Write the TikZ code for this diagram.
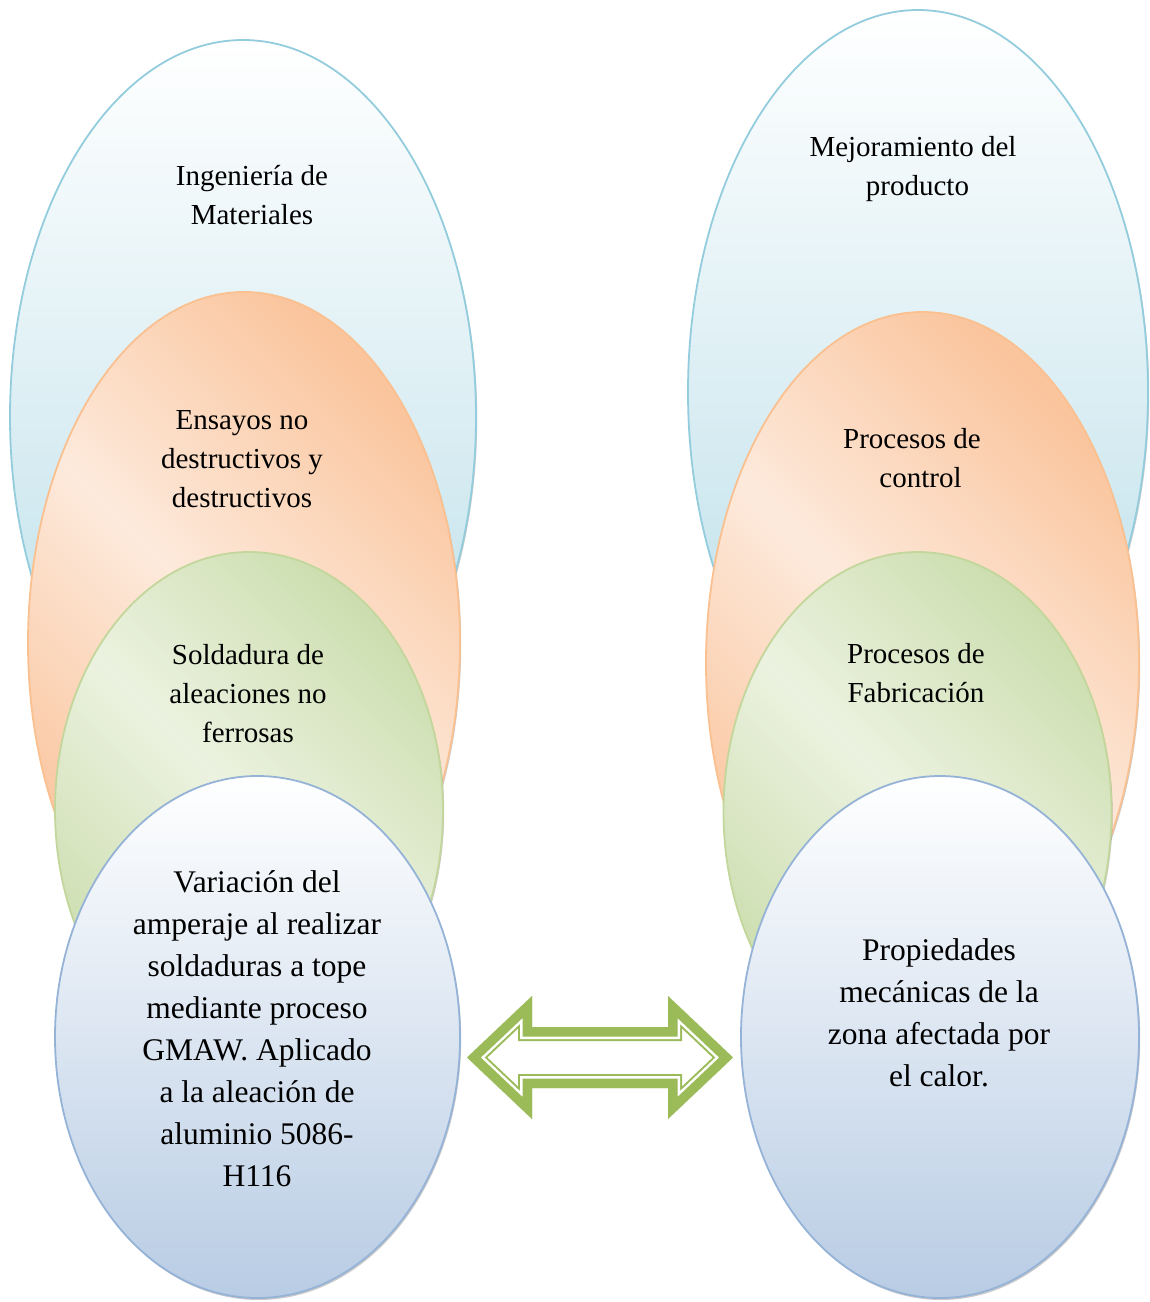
\documentclass[tikz,border=0pt]{standalone}
\usepackage{fontspec}
\setmainfont{Liberation Serif}
\usetikzlibrary{shapes.geometric,shadows}

\definecolor{skyedge}{HTML}{93CDDD}
\definecolor{skydeep}{HTML}{B7DDE8}
\definecolor{peachedge}{HTML}{FAC090}
\definecolor{peachdeep}{HTML}{FAC49C}
\definecolor{peachlight}{HTML}{FDEADC}
\definecolor{sageedge}{HTML}{C3D69B}
\definecolor{sagedeep}{HTML}{CCDEAF}
\definecolor{sagelight}{HTML}{ECF2E0}
\definecolor{slateedge}{HTML}{95B3D7}
\definecolor{slatedeep}{HTML}{B8CCE4}
\definecolor{arrowgreen}{HTML}{9BBB59}

\tikzset{
  ring/.style={ellipse, inner sep=0pt, line width=1.8pt,
    drop shadow={shadow xshift=1.2pt, shadow yshift=-2pt, opacity=0.35, fill=black!60}},
  outerring/.style={ring, draw=skyedge, top color=white, bottom color=skydeep},
  midring/.style={ring, draw=peachedge, top color=peachdeep, bottom color=peachdeep,
    middle color=peachlight, shading angle=-45},
  innerring/.style={ring, draw=sageedge, top color=sagedeep, bottom color=sagedeep,
    middle color=sagelight, shading angle=-45},
  corering/.style={ring, draw=slateedge, top color=white, bottom color=slatedeep},
  lbl/.style={align=center, inner sep=0pt, text=black, font=\fontsize{29}{39}\selectfont},
  biglbl/.style={align=center, inner sep=0pt, text=black, font=\fontsize{31.5}{42}\selectfont},
}

% outline of the two-headed arrow between the two stacks
\def\twowaypath{(467,1057.5) -- (532,996) -- (532,1027) -- (668,1027) -- (668,996)
  -- (733,1057.5) -- (668,1119) -- (668,1088) -- (532,1088) -- (532,1119) -- cycle}

\begin{document}
\begin{tikzpicture}[x=1pt, y=-1pt]
\useasboundingbox (0,0) rectangle (1150,1302);

% left stack
\node[outerring, minimum width=466pt, minimum height=754pt] (lA) at (243,417) {};
\node[midring,   minimum width=432pt, minimum height=702pt] (lB) at (244,643) {};
\node[innerring, minimum width=388pt, minimum height=516pt] (lC) at (249,810) {};
\node[corering,  minimum width=405pt, minimum height=522pt] (lD) at (257.5,1037) {};

\node[lbl] (tA) at (252,195) {Ingeniería de\\Materiales};
\node[lbl] (tB) at (242,459) {Ensayos no\\destructivos y\\destructivos};
\node[lbl] (tC) at (248,693.5) {Soldadura de\\aleaciones no\\ferrosas};
\node[biglbl] (tD) at (257,1028.5) {Variación del\\amperaje al realizar\\soldaduras a tope\\mediante proceso\\GMAW. Aplicado\\a la aleación de\\aluminio 5086-\\H116};

% right stack
\node[outerring, minimum width=460pt, minimum height=764pt] (rA) at (918,392) {};
\node[midring,   minimum width=433pt, minimum height=702pt] (rB) at (922.5,663) {};
\node[innerring, minimum width=388pt, minimum height=520pt] (rC) at (917.5,812) {};
\node[corering,  minimum width=398pt, minimum height=522pt] (rD) at (940,1037) {};

\node[lbl] (uA) at (915,169) {Mejoramiento del\hspace*{4pt}\\\hspace*{5pt}producto};
\node[lbl] (uB) at (916,458.5) {Procesos de\hspace*{8pt}\\\hspace*{9pt}control};
\node[lbl] (uC) at (916,673) {Procesos de\\Fabricación};
\node[biglbl] (uD) at (939,1012.5) {Propiedades\\mecánicas de la\\zona afectada por\\el calor.};

% two-headed arrow: thick band, thin gap, thin inner line
\begin{scope}
  \clip \twowaypath;
  \fill[white] \twowaypath;
  \draw[arrowgreen, line width=28pt, line join=miter] \twowaypath;
  \draw[white, line width=24pt, line join=miter] \twowaypath;
  \draw[arrowgreen, line width=19pt, line join=miter] \twowaypath;
\end{scope}
\end{tikzpicture}
\end{document}
